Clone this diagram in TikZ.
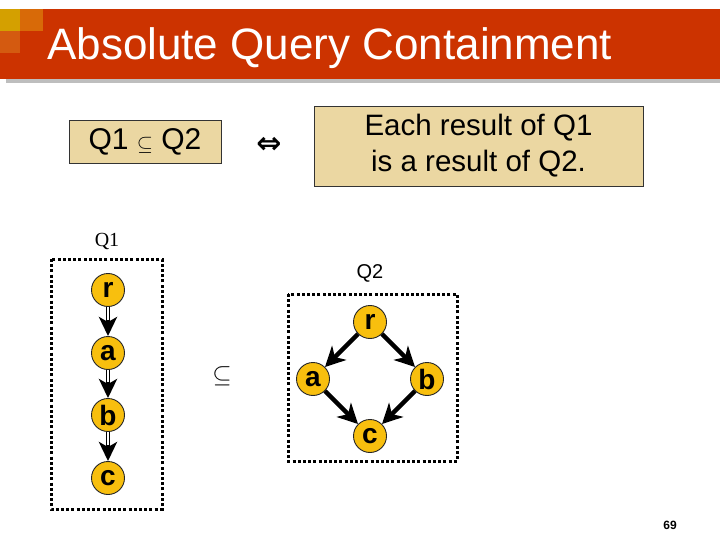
\documentclass[tikz,border=0pt]{standalone}
\usepackage{fontspec}
\setmainfont{Liberation Sans}
\newfontfamily\serifq{Liberation Serif}
\newfontfamily\symfont{DejaVu Sans}
\usetikzlibrary{arrows.meta}
\definecolor{barred}{HTML}{CC3300}
\definecolor{gold1}{HTML}{D4A000}
\definecolor{orng1}{HTML}{D86A08}
\definecolor{orng2}{HTML}{D45A10}
\definecolor{tanbox}{HTML}{EBD7A2}
\definecolor{nodeyel}{HTML}{F8BF0E}
\definecolor{shadowg}{HTML}{BEBEBE}
\tikzset{
  tanframe/.style={draw=black!80, line width=0.9pt, fill=tanbox, align=center},
  gnode/.style={circle, draw=black!85, line width=0.9pt, fill=nodeyel, minimum size=33pt, inner sep=0pt, font=\fontsize{28}{28}\selectfont\bfseries},
  dotbox/.style={draw=black, line width=3pt, dash pattern=on 3pt off 2.2pt},
  q1arrow/.style={-{Stealth[length=19pt,width=18pt,inset=5pt]}, line width=4pt, black},
  q1inner/.style={white, line width=1.2pt, shorten >=16pt},
  q2arrow/.style={-{Stealth[length=20pt,width=20pt,inset=6pt]}, line width=4.5pt, black},
}
\begin{document}
\begin{tikzpicture}[x=1pt,y=-1pt]
\useasboundingbox (0,0) rectangle (720,540);
\fill[white] (0,0) rectangle (720,540);
% title bar
\fill[shadowg] (6,79) rectangle (720,83);
\fill[barred] (0,9) rectangle (720,79);
\fill[gold1] (0,9) rectangle (20,31);
\fill[orng1] (20,9) rectangle (43,31);
\fill[orng2] (0,31) rectangle (20,53);
\node[anchor=base west, text=white, font=\fontsize{44}{44}\selectfont, inner sep=0pt] (title) at (47,60) {Absolute Query Containment};
% top boxes
\node[tanframe, minimum width=152pt, minimum height=43pt, inner sep=0pt, font=\fontsize{30}{30}\selectfont] (contain) at (145,141.5) {Q1 \raisebox{-1pt}{$\scriptstyle\subseteq$} Q2};
\node[font=\symfont\bfseries\fontsize{30}{30}\selectfont, inner sep=0pt] (iff) at (269,145) {⇔};
\node[tanframe, minimum width=329pt, minimum height=80pt, inner sep=0pt, font=\fontsize{29.5}{36}\selectfont] (each) at (478.5,146) {Each result of Q1\\is a result of Q2.};
% Q1
\node[font=\serifq\fontsize{20}{20}\selectfont] (q1lab) at (107,242) {Q1};
\draw[dotbox] (51,259) rectangle (162,509);
\node[gnode] (r1) at (108,290) {r};
\node[gnode] (a1) at (108,353) {a};
\node[gnode] (b1) at (108,415) {b};
\node[gnode] (c1) at (108,478) {c};
\foreach \u/\v in {r1/a1,a1/b1,b1/c1}{
  \draw[q1arrow] (\u) -- (\v);
  \draw[q1inner] (\u) -- (\v);
}
% subset symbol
\node[font=\fontsize{28}{28}\selectfont] (sub) at (222,376) {$\subseteq$};
% Q2
\node[font=\fontsize{20}{20}\selectfont] (q2lab) at (370,273) {Q2};
\draw[dotbox] (288,294) rectangle (457,461);
\node[gnode] (r2) at (370,322) {r};
\node[gnode] (a2) at (313,379) {a};
\node[gnode] (b2) at (427,379) {b};
\node[gnode] (c2) at (370,436) {c};
\draw[q2arrow] (r2) -- (a2);
\draw[q2arrow] (r2) -- (b2);
\draw[q2arrow] (a2) -- (c2);
\draw[q2arrow] (b2) -- (c2);
% page number
\node[font=\fontsize{12}{12}\selectfont\bfseries] (pg) at (670,525) {69};
\end{tikzpicture}
\end{document}
